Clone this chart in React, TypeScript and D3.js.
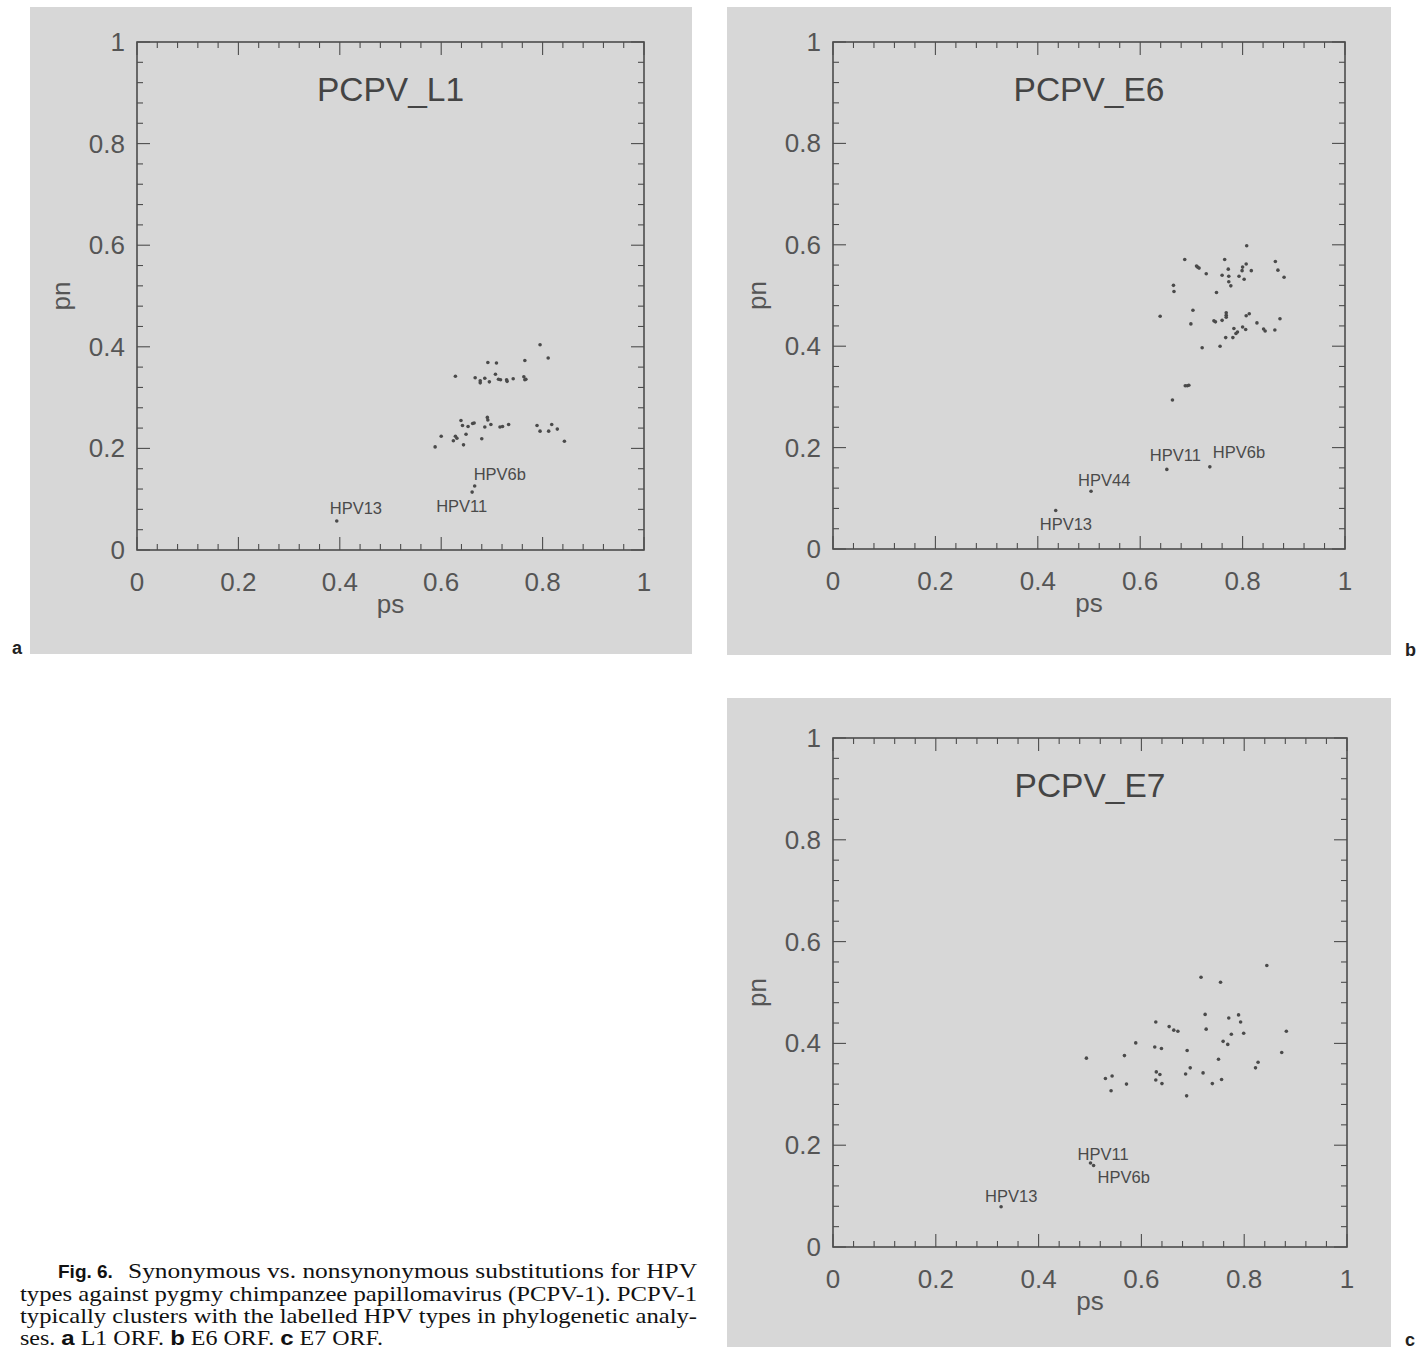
import React from 'react';
import * as d3 from 'd3';

// ---------- data ----------
const tickValues = [0, 0.2, 0.4, 0.6, 0.8, 1];
const tickLabels = ['0', '0.2', '0.4', '0.6', '0.8', '1'];
const minorStep = 0.04;

const titles = ['PCPV_L1', 'PCPV_E6', 'PCPV_E7'];
const panelLetters = ['a', 'b', 'c'];

// [ps, pn]
const l1Points: [number, number][] = [
  [0.795, 0.404], [0.811, 0.378], [0.692, 0.369], [0.709, 0.368], [0.765, 0.373],
  [0.628, 0.342], [0.667, 0.339], [0.677, 0.333], [0.677, 0.329], [0.686, 0.338],
  [0.695, 0.331], [0.707, 0.346], [0.713, 0.336], [0.717, 0.335], [0.729, 0.335],
  [0.730, 0.332], [0.742, 0.337], [0.763, 0.341], [0.765, 0.335], [0.767, 0.336],
  [0.639, 0.255], [0.642, 0.245], [0.653, 0.243], [0.662, 0.249], [0.665, 0.250],
  [0.691, 0.261], [0.692, 0.256], [0.686, 0.242], [0.698, 0.247], [0.716, 0.242],
  [0.721, 0.243], [0.733, 0.247], [0.600, 0.224], [0.628, 0.224], [0.631, 0.220],
  [0.624, 0.215], [0.649, 0.228], [0.644, 0.207], [0.680, 0.219], [0.588, 0.203],
  [0.789, 0.245], [0.795, 0.234], [0.812, 0.234], [0.818, 0.247], [0.829, 0.238],
  [0.843, 0.214],
];
const l1Labelled = [
  { name: 'HPV13', ps: 0.394, pn: 0.057 },
  { name: 'HPV11', ps: 0.661, pn: 0.114 },
  { name: 'HPV6b', ps: 0.666, pn: 0.126 },
];

const e6Points: [number, number][] = [
  [0.808, 0.598], [0.687, 0.571], [0.765, 0.571], [0.864, 0.567], [0.710, 0.558],
  [0.712, 0.556], [0.715, 0.554], [0.807, 0.562], [0.800, 0.556], [0.799, 0.549],
  [0.772, 0.552], [0.817, 0.549], [0.869, 0.550], [0.729, 0.543], [0.760, 0.540],
  [0.773, 0.538], [0.793, 0.538], [0.803, 0.532], [0.881, 0.536], [0.773, 0.527],
  [0.777, 0.519], [0.665, 0.520], [0.666, 0.508], [0.749, 0.506],
  [0.639, 0.459], [0.703, 0.471], [0.699, 0.444], [0.768, 0.466], [0.768, 0.461],
  [0.768, 0.457], [0.744, 0.450], [0.747, 0.448], [0.760, 0.451], [0.807, 0.460],
  [0.813, 0.464], [0.828, 0.446], [0.873, 0.454], [0.783, 0.435], [0.800, 0.438],
  [0.806, 0.433], [0.790, 0.428], [0.787, 0.425], [0.841, 0.434], [0.844, 0.430],
  [0.863, 0.432], [0.767, 0.417], [0.781, 0.417], [0.721, 0.397], [0.756, 0.400],
  [0.688, 0.322], [0.692, 0.322], [0.695, 0.323], [0.663, 0.294],
];
const e6Labelled = [
  { name: 'HPV13', ps: 0.435, pn: 0.076 },
  { name: 'HPV44', ps: 0.504, pn: 0.114 },
  { name: 'HPV11', ps: 0.652, pn: 0.157 },
  { name: 'HPV6b', ps: 0.736, pn: 0.162 },
];

const e7Points: [number, number][] = [
  [0.844, 0.553], [0.716, 0.530], [0.754, 0.520], [0.724, 0.457], [0.789, 0.456],
  [0.770, 0.450], [0.793, 0.442], [0.628, 0.442], [0.654, 0.433], [0.663, 0.426],
  [0.671, 0.424], [0.726, 0.428], [0.882, 0.424], [0.799, 0.420], [0.775, 0.418],
  [0.759, 0.404], [0.768, 0.398], [0.589, 0.401], [0.626, 0.393], [0.639, 0.390],
  [0.689, 0.386], [0.567, 0.376], [0.750, 0.369], [0.873, 0.382], [0.827, 0.363],
  [0.822, 0.352], [0.695, 0.352], [0.686, 0.340], [0.720, 0.342], [0.629, 0.344],
  [0.636, 0.339], [0.628, 0.328], [0.640, 0.321], [0.530, 0.331], [0.543, 0.336],
  [0.571, 0.320], [0.541, 0.307], [0.738, 0.321], [0.756, 0.329], [0.688, 0.297],
  [0.493, 0.371],
];
const e7Labelled = [
  { name: 'HPV11', ps: 0.501, pn: 0.165 },
  { name: 'HPV6b', ps: 0.507, pn: 0.160 },
  { name: 'HPV13', ps: 0.327, pn: 0.079 },
];

// ---------- layout (not data) ----------
const labelOffsets: Record<string, [number, number]>[] = [
  { HPV13: [-7, -7], HPV11: [-36, 20], HPV6b: [-1, -6] },
  { HPV13: [-16, 20], HPV44: [-13, -5], HPV11: [-17, -8], HPV6b: [3, -9] },
  { HPV11: [-13, -3], HPV6b: [4, 17], HPV13: [-16, -5] },
];

const panels = [
  { bg: [30, 7, 692, 654], frame: [137, 644, 42, 550], pnX: 70, letter: [12, 654] },
  { bg: [727, 7, 1391, 655], frame: [833, 1345, 42, 549], pnX: 766, letter: [1405, 656] },
  { bg: [727, 698, 1391, 1347], frame: [833, 1347, 738, 1247], pnX: 766, letter: [1405, 1346] },
];
const panelPoints = [l1Points, e6Points, e7Points];
const panelLabelled = [l1Labelled, e6Labelled, e7Labelled];

const BG = '#d7d7d7';
const INK = '#4d4d4d';
const SANS = '"Liberation Sans", Arial, Helvetica, sans-serif';
const SERIF = '"Liberation Serif", "Times New Roman", serif';

function Panel({ i }: { i: number }) {
  const p = panels[i];
  const [l, r, t, b] = p.frame;
  const x = d3.scaleLinear().domain([0, 1]).range([l, r]);
  const y = d3.scaleLinear().domain([0, 1]).range([b, t]);
  const minor = d3.range(0, 1 + 1e-9, minorStep);
  const maj = 13;
  const mn = 6;
  return (
    <g>
      <rect x={p.bg[0]} y={p.bg[1]} width={p.bg[2] - p.bg[0]} height={p.bg[3] - p.bg[1]} fill={BG} />
      <g stroke={INK} strokeWidth={1.1}>
        {minor.map((v, k) => {
          const len = k % 5 === 0 ? maj : mn;
          return (
            <g key={k}>
              <line x1={x(v)} x2={x(v)} y1={b} y2={b - len} />
              <line x1={x(v)} x2={x(v)} y1={t} y2={t + len} />
              <line x1={l} x2={l + len} y1={y(v)} y2={y(v)} />
              <line x1={r} x2={r - len} y1={y(v)} y2={y(v)} />
            </g>
          );
        })}
      </g>
      <rect x={l} y={t} width={r - l} height={b - t} fill="none" stroke={INK} strokeWidth={1.6} />
      <g fontFamily={SANS} fontSize={26} fill="#555">
        {tickValues.map((v, k) => (
          <text key={'x' + k} x={x(v)} y={b + 41} textAnchor="middle">{tickLabels[k]}</text>
        ))}
        {tickValues.map((v, k) => (
          <text key={'y' + k} x={l - 12} y={y(v) + 9} textAnchor="end">{tickLabels[k]}</text>
        ))}
        <text x={(l + r) / 2} y={b + 63} textAnchor="middle">ps</text>
        <text transform={`translate(${p.pnX},${(t + b) / 2}) rotate(-90)`} textAnchor="middle">pn</text>
      </g>
      <text x={(l + r) / 2} y={t + 59} textAnchor="middle" fontFamily={SANS} fontSize={33.5} fill="#444">
        {titles[i]}
      </text>
      <g fill="#4a4a4a">
        {panelPoints[i].map((d, k) => (
          <circle key={k} cx={x(d[0])} cy={y(d[1])} r={1.8} />
        ))}
        {panelLabelled[i].map((d, k) => (
          <circle key={'l' + k} cx={x(d.ps)} cy={y(d.pn)} r={1.8} />
        ))}
      </g>
      <g fontFamily={SANS} fontSize={16.5} fill="#4a4a4a">
        {panelLabelled[i].map((d, k) => {
          const off = labelOffsets[i][d.name];
          return (
            <text key={k} x={x(d.ps) + off[0]} y={y(d.pn) + off[1]}>{d.name}</text>
          );
        })}
      </g>
      <text x={p.letter[0]} y={p.letter[1]} fontFamily={SANS} fontWeight="bold" fontSize={18} fill="#222">
        {panelLetters[i]}
      </text>
    </g>
  );
}

const captionLines = [
  'Synonymous vs. nonsynonymous substitutions for HPV',
  'types against pygmy chimpanzee papillomavirus (PCPV-1). PCPV-1',
  'typically clusters with the labelled HPV types in phylogenetic analy-',
];

export default function App() {
  return (
    <svg
      width={1428}
      height={1347}
      style={{ position: 'absolute', left: 0, top: 0, background: '#fff' }}
    >
      {[0, 1, 2].map((i) => (
        <Panel key={i} i={i} />
      ))}
      <g fill="#111">
        <text x={58} y={1278} fontFamily={SANS} fontWeight="bold" fontSize={19}>Fig. 6.</text>
        <text x={128} y={1278} fontFamily={SERIF} fontSize={21} textLength={569} lengthAdjust="spacingAndGlyphs">
          {captionLines[0]}
        </text>
        <text x={20} y={1300.5} fontFamily={SERIF} fontSize={21} textLength={677} lengthAdjust="spacingAndGlyphs">
          {captionLines[1]}
        </text>
        <text x={20} y={1323} fontFamily={SERIF} fontSize={21} textLength={677} lengthAdjust="spacingAndGlyphs">
          {captionLines[2]}
        </text>
        <text x={20} y={1345} fontFamily={SERIF} fontSize={21} textLength={363} lengthAdjust="spacingAndGlyphs">
          <tspan>ses. </tspan>
          <tspan fontFamily={SANS} fontWeight="bold">a</tspan>
          <tspan> L1 ORF. </tspan>
          <tspan fontFamily={SANS} fontWeight="bold">b</tspan>
          <tspan> E6 ORF. </tspan>
          <tspan fontFamily={SANS} fontWeight="bold">c</tspan>
          <tspan> E7 ORF.</tspan>
        </text>
      </g>
    </svg>
  );
}
